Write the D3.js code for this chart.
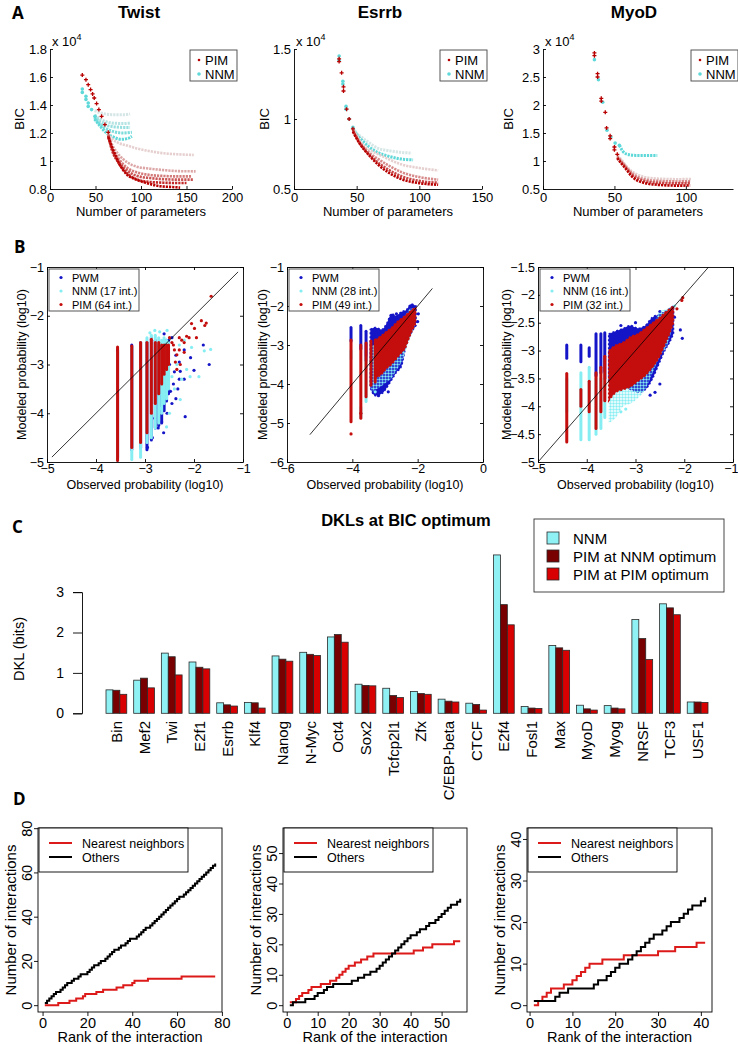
<!DOCTYPE html>
<html><head><meta charset="utf-8">
<script src="https://cdn.jsdelivr.net/npm/d3@7/dist/d3.min.js"></script>
<style>
body{margin:0;background:#fff}
svg{display:block;background:#fff}
text{font-family:"Liberation Sans",Arial,Helvetica,sans-serif;fill:#000}
</style></head><body>
<svg id="fig" width="738" height="1044"></svg>
<script>
// ================= DATA =================
// ---- Panel A : BIC vs number of parameters (BIC in units of 1e4) ----
const aTitles=["Twist","Esrrb","MyoD"];
const aXDomains=[[0,200],[0,150],[0,133]];
const aYDomains=[[0.8,1.8],[0.5,1.5],[0.5,3]];
const aXTicks=[[0,50,100,150,200],[0,50,100,150],[0,50,100]];
const aYTicks=[[0.8,1,1.2,1.4,1.6,1.8],[0.5,1,1.5],[0.5,1,1.5,2,2.5,3]];
const aLegendLabels=["PIM","NNM"];

const twPimPts=[[35.5,1.614],[39.5,1.581],[42,1.545],[44.6,1.51],[46.8,1.479],[48.6,1.45],[51.2,1.41],[53.7,1.367],[56.7,1.319],[60.3,1.26],[64,1.205]];
const twPimCurves=[
 [[64,1.2],[68,1.16],[75,1.13],[85,1.11],[95,1.09],[110,1.07],[125,1.055],[140,1.048],[158,1.043]],
 [[64,1.19],[68,1.12],[75,1.05],[85,0.99],[95,0.96],[110,0.945],[125,0.935],[140,0.928],[160,0.926]],
 [[64,1.19],[68,1.1],[75,1.02],[85,0.95],[95,0.92],[110,0.9],[125,0.893],[140,0.89],[155,0.89]],
 [[64,1.18],[68,1.09],[75,1.0],[85,0.93],[95,0.895],[110,0.878],[125,0.87],[140,0.867],[157,0.867]],
 [[64,1.18],[68,1.08],[75,0.99],[85,0.91],[95,0.87],[110,0.85],[125,0.845],[140,0.843],[150,0.843]],
 [[64,1.17],[68,1.1],[72,1.04],[76,0.98],[80,0.94],[85,0.9],[92,0.875],[100,0.855],[110,0.835],[121,0.82],[132,0.815],[143,0.81]]
];
const twNnmPts=[[35.5,1.514],[35.5,1.49],[39.5,1.462],[39.5,1.44],[42,1.414],[42,1.39],[45.7,1.367],[49.4,1.319]];
const twNnmCurves=[
 [[49,1.36],[55,1.345],[62,1.335],[70,1.33],[80,1.33],[88,1.336]],
 [[49,1.33],[55,1.3],[62,1.28],[70,1.27],[80,1.268],[88,1.27]],
 [[49,1.32],[55,1.28],[62,1.255],[70,1.245],[80,1.24],[88,1.24]],
 [[49,1.31],[55,1.26],[62,1.23],[70,1.21],[80,1.2],[90,1.205]],
 [[49,1.3],[55,1.25],[62,1.2],[70,1.17],[78,1.155],[85,1.16],[90,1.176]]
];
const esPimPts=[[36,1.43],[36,1.41],[38,1.33],[39.5,1.23],[39.5,1.2],[42,1.07],[44,1.0],[47,0.93]];
const esPimCurves=[
 [[47,0.93],[52,0.85],[57,0.8],[62,0.77],[67,0.75],[75,0.715],[86,0.675],[100,0.65],[115,0.633]],
 [[47,0.92],[52,0.84],[57,0.785],[62,0.745],[67,0.715],[75,0.67],[86,0.62],[100,0.585],[115,0.567]],
 [[47,0.92],[52,0.835],[57,0.775],[62,0.73],[67,0.69],[75,0.64],[86,0.59],[100,0.558],[115,0.545]],
 [[47,0.91],[52,0.83],[57,0.77],[62,0.72],[67,0.675],[75,0.62],[86,0.57],[100,0.542],[115,0.53]]
];
const esNnmPts=[[36,1.45],[36,1.42],[39,1.27],[39,1.25],[41.5,1.09],[41.5,1.07],[44,1.0],[47,0.94]];
const esNnmCurves=[
 [[47,0.94],[50,0.9],[54,0.87],[60,0.83],[67,0.79],[75,0.775],[85,0.762],[93,0.757]],
 [[47,0.93],[50,0.89],[54,0.85],[60,0.8],[67,0.76],[75,0.735],[85,0.715],[95,0.708]]
];
const myPimPts=[[36,2.93],[36,2.88],[38.2,2.56],[38.2,2.5],[40.8,2.12],[40.8,2.07],[43.6,1.87],[44.5,1.59],[47,1.45],[47,1.4],[50,1.25],[50,1.2],[52,1.12]];
const myPimCurves=[
 [[52,1.1],[55,1.02],[58,0.92],[62,0.82],[66,0.76],[70,0.72],[80,0.685],[95,0.675],[104,0.68]],
 [[52,1.08],[55,0.99],[58,0.9],[62,0.79],[66,0.72],[70,0.68],[80,0.645],[95,0.635],[103,0.64]],
 [[52,1.06],[55,0.97],[58,0.88],[62,0.76],[66,0.69],[70,0.65],[80,0.61],[95,0.6],[103,0.61]],
 [[52,1.05],[55,0.95],[58,0.86],[62,0.73],[66,0.65],[70,0.615],[80,0.575],[95,0.56],[103,0.565]]
];
const myNnmPts=[[36,2.81],[38.8,2.45],[41.8,2.05],[44.8,1.55],[47.5,1.43],[50.5,1.32],[53.5,1.28]];
const myNnmCurves=[[[53.5,1.28],[56,1.17],[58,1.13],[61,1.11],[65,1.1],[70,1.1],[75,1.1],[80,1.1]]];

// ---- Panel B : modeled vs observed probability (log10) ----
const bLegendLabels=[["PWM","NNM (17 int.)","PIM (64 int.)"],["PWM","NNM (28 int.)","PIM (49 int.)"],["PWM","NNM (16 int.)","PIM (32 int.)"]];
const bXDomains=[[-5,-1],[-6,0],[-5,-1]];
const bYDomains=[[-5,-1],[-6,-1],[-5,-1.5]];
const bXTicks=[[-5,-4,-3,-2,-1],[-6,-4,-2,0],[-5,-4,-3,-2,-1]];
const bYTicks=[[-5,-4,-3,-2,-1],[-6,-5,-4,-3,-2,-1],[-5,-4.5,-4,-3.5,-3,-2.5,-2,-1.5]];
const bDiagonals=[[[-4.9,-4.9],[-1.1,-1.1]],[[-5.3,-5.3],[-1.55,-1.55]],[[-5,-5],[-1.5,-1.5]]];
// columns: [observed, top, bottom]
const b1PwmCols=[[-3.56,-2.7,-4.9],[-3.27,-2.6,-4.75],[-3.09,-2.55,-4.7],[-2.96,-2.55,-4.75],[-2.87,-2.45,-4.55],[-2.79,-2.5,-4.3],[-2.72,-2.6,-4.25],[-2.66,-2.6,-4.2],[-2.61,-2.55,-3.95],[-2.56,-2.5,-3.75],[-2.52,-2.5,-3.6]];
const b1NnmCols=[[-3.56,-2.75,-4.97],[-3.27,-2.65,-4.95],[-3.09,-2.55,-4.9],[-2.96,-2.45,-4.6],[-2.87,-2.4,-4.5],[-2.79,-2.4,-4.3],[-2.72,-2.45,-4.2],[-2.66,-2.5,-4.0],[-2.61,-2.45,-3.8],[-2.56,-2.5,-3.7],[-2.52,-2.55,-3.5]];
const b1PimCols=[[-3.56,-2.64,-4.97],[-3.27,-2.62,-4.7],[-3.09,-2.55,-4.6],[-2.96,-2.55,-4.4],[-2.87,-2.48,-4.0],[-2.79,-2.55,-3.8],[-2.72,-2.55,-3.6],[-2.66,-2.6,-3.4],[-2.61,-2.6,-3.2],[-2.56,-2.6,-3.1],[-2.52,-2.6,-3.0]];
const b1PwmPts=[[-2.61,-2.37],[-2.45,-2.45],[-2.37,-2.81],[-2.28,-3.14],[-2.07,-2.86],[-2.0,-3.12],[-1.81,-2.6],[-1.69,-3.0],[-2.3,-3.3],[-2.37,-3.7],[-2.18,-4.07],[-2.45,-3.8],[-2.66,-4.18],[-2.73,-4.3],[-2.85,-4.5],[-2.95,-4.7],[-2.57,-3.35],[-2.48,-3.55],[-2.8,-4.1],[-2.4,-3.15],[-2.2,-2.7],[-2.3,-2.95],[-2.5,-3.0],[-2.42,-3.4],[-2.33,-3.5],[-2.55,-4.0],[-2.62,-4.4],[-2.2,-3.3]];
const b1NnmPts=[[-2.9,-2.35],[-2.8,-2.3],[-2.7,-2.33],[-2.55,-2.3],[-2.08,-3.25],[-1.9,-3.25],[-1.79,-2.72],[-1.66,-2.69],[-2.28,-3.72],[-2.5,-4.0],[-2.56,-4.28],[-2.35,-3.0],[-2.25,-3.3],[-2.4,-3.5],[-2.15,-3.1],[-2.45,-3.25],[-2.6,-3.6],[-2.7,-3.9],[-2.05,-2.65],[-2.3,-2.6],[-2.2,-2.5]];
const b1PimPts=[[-2.5,-2.45],[-2.45,-2.55],[-2.4,-2.7],[-2.35,-2.8],[-2.3,-2.45],[-2.25,-2.5],[-2.2,-2.55],[-2.15,-2.42],[-2.05,-2.16],[-1.99,-2.26],[-1.95,-2.45],[-1.85,-2.1],[-1.78,-2.2],[-1.75,-2.15],[-1.65,-1.6],[-2.38,-2.95],[-2.3,-2.7],[-2.28,-3.0],[-2.35,-3.1],[-2.2,-2.75],[-2.1,-2.45],[-2.42,-2.6]];

const b2PwmCols=[[-4.04,-2.55,-2.9],[-3.74,-2.5,-3.1],[-3.58,-2.65,-3.4]];
const b2NnmCols=[[-4.04,-3.15,-3.35],[-3.74,-4.6,-4.85],[-3.58,-3.3,-4.45]];
const b2PimCols=[[-4.04,-2.87,-4.97],[-3.74,-3.0,-4.88],[-3.58,-2.95,-4.33],[-3.43,-2.9,-4.03],[-3.3,-2.87,-3.95]];
// dense clouds: [observed, top, bottom]
const b2PwmCloud=[[-3.45,-2.6,-4.1],[-3.3,-2.55,-4.3],[-3.1,-2.6,-4.25],[-2.95,-2.45,-4.1],[-2.8,-2.2,-3.9],[-2.65,-2.25,-3.7],[-2.5,-2.15,-3.55],[-2.35,-2.1,-3.0],[-2.2,-1.95,-2.7],[-2.05,-2.0,-2.5]];
const b2NnmCloud=[[-3.43,-3.0,-4.2],[-3.3,-3.0,-4.15],[-3.1,-2.9,-4.05],[-2.95,-2.8,-3.95],[-2.8,-2.7,-3.85],[-2.65,-2.5,-3.65],[-2.5,-2.35,-3.45],[-2.35,-2.2,-3.1],[-2.2,-2.05,-2.75],[-2.08,-2.05,-2.5]];
const b2PimCloud=[[-3.3,-2.87,-3.85],[-3.1,-2.75,-3.75],[-2.95,-2.65,-3.6],[-2.8,-2.55,-3.5],[-2.65,-2.42,-3.35],[-2.5,-2.32,-3.2],[-2.39,-2.25,-3.1],[-2.25,-2.15,-2.8],[-2.15,-2.08,-2.6],[-2.06,-2.04,-2.45]];
const b2PwmPts=[[-2.65,-2.2],[-2.58,-2.25],[-2.9,-2.45],[-2.7,-2.35],[-1.98,-2.2],[-2.0,-2.4],[-3.2,-4.3],[-2.9,-4.2]];
const b2NnmPts=[[-3.74,-4.75],[-3.3,-4.2]];
const b2PimPts=[[-4.04,-5.28],[-3.74,-4.75]];

const b3PwmCols=[[-4.41,-2.9,-3.14],[-4.12,-2.9,-3.2],[-3.95,-2.95,-3.1],[-3.81,-2.7,-3.45],[-3.71,-2.7,-3.4],[-3.63,-2.68,-3.5]];
const b3NnmCols=[[-4.41,-3.5,-4.1],[-4.12,-3.4,-4.6],[-3.95,-3.3,-4.6],[-3.81,-3.5,-4.5],[-3.71,-3.5,-4.4],[-3.63,-3.4,-4.2]];
const b3PimCols=[[-4.41,-3.41,-4.64],[-4.12,-3.7,-4.0],[-3.95,-3.55,-4.1],[-3.81,-3.4,-4.4],[-3.71,-3.3,-4.1],[-3.63,-3.1,-3.9]];
const b3PwmCloud=[[-3.55,-2.7,-3.55],[-3.4,-2.65,-3.6],[-3.25,-2.6,-3.65],[-3.1,-2.55,-3.7],[-2.95,-2.6,-3.75],[-2.8,-2.55,-3.7],[-2.65,-2.4,-3.5],[-2.5,-2.35,-3.2],[-2.4,-2.3,-3.0],[-2.3,-2.25,-2.85],[-2.22,-2.2,-2.7]];
const b3NnmCloud=[[-3.55,-3.3,-4.3],[-3.4,-3.3,-4.2],[-3.25,-3.3,-4.0],[-3.1,-3.2,-3.95],[-2.95,-3.1,-3.85],[-2.8,-2.9,-3.7],[-2.65,-2.6,-3.4],[-2.5,-2.3,-3.1],[-2.35,-2.25,-2.9],[-2.25,-2.2,-2.6]];
const b3PimCloud=[[-3.55,-3.0,-3.9],[-3.4,-2.9,-3.75],[-3.25,-2.85,-3.7],[-3.1,-2.75,-3.65],[-2.95,-2.7,-3.55],[-2.8,-2.6,-3.45],[-2.65,-2.5,-3.3],[-2.5,-2.4,-3.1],[-2.4,-2.32,-2.9],[-2.3,-2.25,-2.7],[-2.22,-2.2,-2.5]];
const b3PwmPts=[[-2.08,-2.63],[-2.04,-2.78],[-2.2,-2.4],[-2.3,-2.35],[-3.3,-2.55],[-3.0,-2.5],[-2.5,-2.3],[-2.6,-3.75],[-2.5,-3.6],[-2.7,-3.8]];
const b3NnmPts=[[-2.2,-2.2],[-2.3,-2.3],[-3.3,-4.1],[-3.2,-4.05]];
const b3PimPts=[[-2.03,-2.05],[-2.05,-2.1],[-2.15,-2.25]];

// ---- Panel C : DKL at BIC optimum ----
const cCats=["Bin","Mef2","Twi","E2f1","Esrrb","Klf4","Nanog","N-Myc","Oct4","Sox2","Tcfcp2l1","Zfx","C/EBP-beta","CTCF","E2f4","Fosl1","Max","MyoD","Myog","NRSF","TCF3","USF1"];
const cSeries=["NNM","PIM at NNM optimum","PIM at PIM optimum"];
const cNNM=[0.58,0.82,1.49,1.27,0.26,0.27,1.42,1.51,1.89,0.72,0.62,0.54,0.35,0.25,3.92,0.17,1.68,0.20,0.19,2.32,2.71,0.28];
const cPimAtNnm=[0.57,0.87,1.40,1.14,0.21,0.26,1.34,1.46,1.95,0.69,0.44,0.49,0.30,0.22,2.69,0.13,1.62,0.11,0.13,1.85,2.61,0.28];
const cPimAtPim=[0.47,0.63,0.95,1.10,0.18,0.13,1.29,1.43,1.76,0.68,0.39,0.47,0.28,0.08,2.19,0.12,1.56,0.08,0.11,1.33,2.44,0.27];
const cYTicks=[0,1,2,3];

// ---- Panel D : cumulative number of interactions vs rank ----
const dLegendLabels=["Nearest neighbors","Others"];
const d1NN=[0,0,0,0,0,0,1,1,1,1,1,2,2,2,3,3,3,4,5,5,5,5,5,6,6,6,7,7,7,7,7,7,8,8,8,9,9,9,9,10,11,11,11,11,11,11,12,12,12,12,12,12,12,12,12,12,12,12,12,12,12,13,13,13,13,13,13,13,13,13,13,13,13,13,13,13,13];
const d1Others=[1,2,3,4,5,6,6,7,8,9,10,10,11,12,12,13,14,14,14,15,16,17,18,18,19,20,20,21,22,23,24,25,25,26,27,27,28,29,30,30,30,31,32,33,34,35,35,36,37,38,39,40,41,42,43,44,45,46,47,48,49,49,50,51,52,53,54,55,56,57,58,59,60,61,62,63,64];
const d2NN=[1,1,2,3,4,4,5,6,6,6,7,7,7,8,8,9,10,11,12,13,13,14,14,15,15,16,16,17,17,17,17,17,17,17,17,17,17,17,17,17,18,18,18,19,19,19,20,20,20,20,20,20,20,21,21,21];
const d2Others=[0,1,1,1,1,2,2,2,3,4,4,5,6,6,7,7,7,7,7,7,8,8,9,9,10,10,11,11,12,13,14,15,16,17,18,19,20,21,22,23,23,24,25,25,26,27,27,28,29,30,31,32,33,33,34,35];
const d3NN=[0,1,2,3,4,4,4,5,5,6,7,8,9,10,10,10,11,11,11,11,11,12,12,12,12,12,12,12,12,13,13,13,13,14,14,14,14,14,15,15,15];
const d3Others=[1,1,1,1,1,2,3,3,4,4,4,4,4,4,5,6,6,7,8,9,10,10,11,12,13,14,15,16,17,17,18,19,20,20,21,22,23,24,24,25,26];
const dXDomains=[[1,77],[1,56],[1,41]];
const dYDomains=[[0,77],[0,56],[0,41]];
const dXTicks=[[0,20,40,60,80],[0,10,20,30,40,50],[0,10,20,30,40]];
const dYTicks=[[0,20,40,60,80],[0,10,20,30,40,50],[0,10,20,30,40]];

// ================= DRAWING =================
const svg=d3.select("#fig");
const COL={pimA:"#b80000",nnmA:"#5ed8d8",pwm:"#1515c8",nnmB:"#86eef3",pimB:"#c40d0d",
  cNnm:"#8ff1f4",cPimN:"#780000",cPimP:"#d80000",dRed:"#dd1a1a"};
const minus=d=>d<0?"\u2212"+Math.abs(d):String(d);
function styleAxis(sel,fs){
  sel.selectAll("text").style("font-size",fs+"px").attr("fill","#000");
  sel.selectAll("line").attr("stroke","#000").attr("stroke-width",0.9);
  sel.selectAll("path.domain").attr("stroke","#000").attr("stroke-width",0.9);
}
function letter(t,x,y){
  svg.append("text").attr("x",x).attr("y",y).text(t)
   .style("font-family",'"Open Sans","Liberation Sans",sans-serif').style("font-weight","bold").style("font-size","17px");
}
const defs=svg.append("defs");
const pat=defs.append("pattern").attr("id","cyanDots").attr("width",3).attr("height",3).attr("patternUnits","userSpaceOnUse");
pat.append("circle").attr("cx",1.5).attr("cy",1.5).attr("r",1.2).attr("fill",COL.nnmB);

// ---------- Panel A ----------
letter("A",12,19);
const aBoxes=[[50,232],[294,482],[543,733]];
const aTop=49,aBot=189;
const aTitleX=[139,380,634];
const aData=[
 {pimPts:twPimPts,pimCurves:twPimCurves,nnmPts:twNnmPts,nnmCurves:twNnmCurves},
 {pimPts:esPimPts,pimCurves:esPimCurves,nnmPts:esNnmPts,nnmCurves:esNnmCurves},
 {pimPts:myPimPts,pimCurves:myPimCurves,nnmPts:myNnmPts,nnmCurves:myNnmCurves}
];
const aBicLabelX=[24,269,513];
aTitles.forEach((t,k)=>{
  const x=d3.scaleLinear().domain(aXDomains[k]).range(aBoxes[k]);
  const y=d3.scaleLinear().domain(aYDomains[k]).range([aBot,aTop]);
  const g=svg.append("g");
  svg.append("text").attr("x",aTitleX[k]).attr("y",18).attr("text-anchor","middle")
    .style("font-weight","bold").style("font-size","17px").text(t);
  const xa=g.append("g").attr("transform",`translate(0,${aBot})`)
    .call(d3.axisBottom(x).tickValues(aXTicks[k]).tickSizeInner(-3).tickSizeOuter(0).tickPadding(3.5).tickFormat(d=>d));
  const ya=g.append("g").attr("transform",`translate(${aBoxes[k][0]},0)`)
    .call(d3.axisLeft(y).tickValues(aYTicks[k]).tickSizeInner(-3).tickSizeOuter(0).tickPadding(3).tickFormat(d=>d));
  styleAxis(xa,13);styleAxis(ya,13);
  const e=svg.append("text").attr("x",aBoxes[k][0]+2).attr("y",46).style("font-size","13px");
  e.append("tspan").text("x 10");
  e.append("tspan").attr("dy",-6).style("font-size","9px").text("4");
  svg.append("text").attr("x",(aBoxes[k][0]+aBoxes[k][1])/2).attr("y",215.5).attr("text-anchor","middle")
    .style("font-size","13px").text("Number of parameters");
  svg.append("text").attr("transform",`translate(${aBicLabelX[k]},${(aTop+aBot)/2}) rotate(-90)`)
    .attr("text-anchor","middle").style("font-size","13px").text("BIC");
  const line=d3.line().x(d=>x(d[0])).y(d=>y(d[1])).curve(d3.curveMonotoneX);
  const d=aData[k];
  const nn=d.nnmCurves.length, np=d.pimCurves.length;
  const nShade=i=>d3.interpolateRgb("#d6e6e6",COL.nnmA)(nn===1?1:i/(nn-1));
  const pShade=i=>d3.interpolateRgb("#e6cfcf",COL.pimA)(np===1?1:i/(np-1));
  d.nnmCurves.forEach((c,i)=>g.append("path").attr("d",line(c)).attr("fill","none")
     .attr("stroke",nShade(i)).attr("stroke-width",3).attr("stroke-dasharray","2.2 1"));
  d.pimCurves.forEach((c,i)=>g.append("path").attr("d",line(c)).attr("fill","none")
     .attr("stroke",pShade(i)).attr("stroke-width",2.6).attr("stroke-dasharray","2.2 1"));
  g.selectAll(null).data(d.nnmPts).join("circle").attr("cx",p=>x(p[0])).attr("cy",p=>y(p[1])).attr("r",1.8).attr("fill",COL.nnmA);
  g.selectAll(null).data(d.pimPts).join("path")
    .attr("d",p=>`M${x(p[0])-2},${y(p[1])}h4M${x(p[0])},${y(p[1])-2}v4`)
    .attr("stroke",COL.pimA).attr("stroke-width",1.3);
  // legend
  const lx=aBoxes[k][1]-42, ly=50;
  const lg=svg.append("g").attr("transform",`translate(${lx},${ly})`);
  lg.append("rect").attr("width",47).attr("height",31).attr("fill","#fff").attr("stroke","#444").attr("stroke-width",0.9);
  lg.append("circle").attr("cx",9).attr("cy",10).attr("r",1.3).attr("fill",COL.pimA);
  lg.append("circle").attr("cx",9).attr("cy",24).attr("r",1.8).attr("fill",COL.nnmA);
  lg.append("text").attr("x",15).attr("y",14.5).style("font-size","13px").text(aLegendLabels[0]);
  lg.append("text").attr("x",15).attr("y",28.5).style("font-size","13px").text(aLegendLabels[1]);
});

// ---------- Panel B ----------
letter("B",14,253);
const bBoxes=[[47,243],[287,483],[538,733]];
const bTop=267,bBot=462;
const bData=[
 {cols:[b1PwmCols,b1NnmCols,b1PimCols],clouds:[[],[],[]],pts:[b1PwmPts,b1NnmPts,b1PimPts]},
 {cols:[b2PwmCols,b2NnmCols,b2PimCols],clouds:[b2PwmCloud,b2NnmCloud,b2PimCloud],pts:[b2PwmPts,b2NnmPts,b2PimPts]},
 {cols:[b3PwmCols,b3NnmCols,b3PimCols],clouds:[b3PwmCloud,b3NnmCloud,b3PimCloud],pts:[b3PwmPts,b3NnmPts,b3PimPts]}
];
const bColors=[COL.pwm,COL.nnmB,COL.pimB];
const bCloudFill=[COL.pwm,"url(#cyanDots)",COL.pimB];
const bYLabelX=[26,267,511];
bData.forEach((d,k)=>{
  const x=d3.scaleLinear().domain(bXDomains[k]).range(bBoxes[k]);
  const y=d3.scaleLinear().domain(bYDomains[k]).range([bBot,bTop]);
  const cid="clipB"+k;
  defs.append("clipPath").attr("id",cid).append("rect").attr("x",bBoxes[k][0]).attr("y",bTop)
    .attr("width",bBoxes[k][1]-bBoxes[k][0]).attr("height",bBot-bTop);
  const g=svg.append("g");
  const pg=g.append("g").attr("clip-path",`url(#${cid})`);
  const area=d3.area().x(p=>x(p[0])).y0(p=>y(p[2])).y1(p=>y(p[1])).curve(d3.curveMonotoneX);
  [0,1,2].forEach(s=>{
    pg.selectAll(null).data(d.cols[s]).join("line")
      .attr("x1",p=>x(p[0])).attr("x2",p=>x(p[0])).attr("y1",p=>y(p[1])).attr("y2",p=>y(p[2]))
      .attr("stroke",bColors[s]).attr("stroke-width",3).attr("stroke-linecap","round");
    if(d.clouds[s].length){
      pg.append("path").attr("d",area(d.clouds[s])).attr("fill",bCloudFill[s])
        .attr("stroke",s===1?"none":bColors[s]).attr("stroke-width",1.5).attr("stroke-dasharray","2 2");
    }
    pg.selectAll(null).data(d.pts[s]).join("circle").attr("cx",p=>x(p[0])).attr("cy",p=>y(p[1]))
      .attr("r",1.6).attr("fill",bColors[s]);
  });
  pg.append("line").attr("x1",x(bDiagonals[k][0][0])).attr("y1",y(bDiagonals[k][0][1]))
    .attr("x2",x(bDiagonals[k][1][0])).attr("y2",y(bDiagonals[k][1][1])).attr("stroke","#000").attr("stroke-width",0.8);
  const xa=g.append("g").attr("transform",`translate(0,${bBot})`)
    .call(d3.axisBottom(x).tickValues(bXTicks[k]).tickSizeInner(-3).tickSizeOuter(0).tickPadding(2).tickFormat(minus));
  const xt=g.append("g").attr("transform",`translate(0,${bTop})`)
    .call(d3.axisTop(x).tickValues(bXTicks[k]).tickSizeInner(-3).tickSizeOuter(0).tickFormat(""));
  const ya=g.append("g").attr("transform",`translate(${bBoxes[k][0]},0)`)
    .call(d3.axisLeft(y).tickValues(bYTicks[k]).tickSizeInner(-3).tickSizeOuter(0).tickPadding(3).tickFormat(minus));
  const yr=g.append("g").attr("transform",`translate(${bBoxes[k][1]},0)`)
    .call(d3.axisRight(y).tickValues(bYTicks[k]).tickSizeInner(-3).tickSizeOuter(0).tickFormat(""));
  [xa,xt,ya,yr].forEach(a=>styleAxis(a,12.5));
  if(k===2) xa.selectAll(".tick text").filter((v,i,n)=>i===n.length-1).attr("text-anchor","end").attr("x",5);
  svg.append("text").attr("x",(bBoxes[k][0]+bBoxes[k][1])/2).attr("y",488.5).attr("text-anchor","middle")
    .style("font-size","12.5px").text("Observed probability (log10)");
  svg.append("text").attr("transform",`translate(${bYLabelX[k]},${(bTop+bBot)/2}) rotate(-90)`)
    .attr("text-anchor","middle").style("font-size","12.5px").text("Modeled probability (log10)");
  const lg=svg.append("g").attr("transform",`translate(${bBoxes[k][0]+2},${bTop+2})`);
  lg.append("rect").attr("width",90).attr("height",42).attr("fill","#fff").attr("stroke","#444").attr("stroke-width",0.9);
  bLegendLabels[k].forEach((t,i)=>{
    lg.append("circle").attr("cx",12).attr("cy",8.5+i*13.5).attr("r",1.6).attr("fill",bColors[i]);
    lg.append("text").attr("x",23).attr("y",12.5+i*13.5).style("font-size","11px").text(t);
  });
});

// ---------- Panel C ----------
letter("C",12,533);
svg.append("text").attr("x",406).attr("y",526).attr("text-anchor","middle")
  .style("font-weight","bold").style("font-size","16.5px").text("DKLs at BIC optimum");
{
  const x0=d3.scaleBand().domain(cCats).range([106,708]).paddingInner(0.25).paddingOuter(0);
  const x1=d3.scaleBand().domain(cSeries).range([0,x0.bandwidth()]);
  const y=d3.scaleLinear().domain([0,3]).range([713.3,592.1]);
  const vals=[cNNM,cPimAtNnm,cPimAtPim];
  const fills=[COL.cNnm,COL.cPimN,COL.cPimP];
  const g=svg.append("g");
  cSeries.forEach((s,si)=>{
    g.selectAll(null).data(cCats).join("rect")
      .attr("x",c=>x0(c)+x1(s)).attr("width",x1.bandwidth())
      .attr("y",(c,i)=>y(vals[si][i])).attr("height",(c,i)=>y(0)-y(vals[si][i]))
      .attr("fill",fills[si]).attr("stroke","#2a2a2a").attr("stroke-width",0.8);
  });
  const ya=g.append("g").attr("transform","translate(82,0)")
    .call(d3.axisLeft(y).tickValues(cYTicks).tickSize(9).tickPadding(9).tickFormat(d=>d));
  styleAxis(ya,14);
  svg.append("text").attr("transform","translate(24,649) rotate(-90)").attr("text-anchor","middle")
    .style("font-size","14.5px").text("DKL (bits)");
  g.selectAll(null).data(cCats).join("text")
    .attr("transform",c=>`translate(${x0(c)+x0.bandwidth()/2+5.5},721) rotate(-90)`)
    .attr("text-anchor","end").style("font-size","15px").text(c=>c);
  const lg=svg.append("g").attr("transform","translate(534,519)");
  lg.append("rect").attr("width",190).attr("height",73).attr("fill","#fff").attr("stroke","#333").attr("stroke-width",0.9);
  cSeries.forEach((s,i)=>{
    lg.append("rect").attr("x",13).attr("y",13+i*18).attr("width",12).attr("height",12)
      .attr("fill",fills[i]).attr("stroke","#2a2a2a").attr("stroke-width",0.8);
    lg.append("text").attr("x",39).attr("y",24.5+i*18).style("font-size","15px").text(s);
  });
}

// ---------- Panel D ----------
letter("D",13,805);
const dBoxes=[[38,222],[283,467],[527,712]];
const dTop=828,dBot=1012;
const dData=[[d1NN,d1Others],[d2NN,d2Others],[d3NN,d3Others]];
const dYLabelX=[16,261,505];
const ext=(a,b)=>[a-(b-a)*0.04,b+(b-a)*0.04];
dData.forEach((d,k)=>{
  const x=d3.scaleLinear().domain(ext(...dXDomains[k])).range(dBoxes[k]);
  const y=d3.scaleLinear().domain(ext(...dYDomains[k])).range([dBot,dTop]);
  const g=svg.append("g");
  const xa=g.append("g").attr("transform",`translate(0,${dBot})`)
    .call(d3.axisBottom(x).tickValues(dXTicks[k]).tickSize(4).tickPadding(1.5).tickFormat(v=>v));
  const ya=g.append("g").attr("transform",`translate(${dBoxes[k][0]},0)`)
    .call(d3.axisLeft(y).tickValues(dYTicks[k]).tickSize(4).tickPadding(3).tickFormat(v=>v));
  ya.selectAll(".tick text").attr("x",0).attr("dy",0).attr("text-anchor","middle")
    .attr("transform","rotate(-90) translate(0,-6)");
  styleAxis(xa,14.5);styleAxis(ya,14.5);
  [xa,ya].forEach(a=>a.select("path.domain").remove());
  g.append("rect").attr("x",dBoxes[k][0]).attr("y",dTop).attr("width",dBoxes[k][1]-dBoxes[k][0])
    .attr("height",dBot-dTop).attr("fill","none").attr("stroke","#000").attr("stroke-width",0.9);
  const line=d3.line().x((v,i)=>x(i+1)).y(v=>y(v)).curve(d3.curveStepAfter);
  g.append("path").attr("d",line(d[0])).attr("fill","none").attr("stroke",COL.dRed).attr("stroke-width",2);
  g.append("path").attr("d",line(d[1])).attr("fill","none").attr("stroke","#000").attr("stroke-width",2);
  svg.append("text").attr("x",(dBoxes[k][0]+dBoxes[k][1])/2).attr("y",1042).attr("text-anchor","middle")
    .style("font-size","14.5px").text("Rank of the interaction");
  svg.append("text").attr("transform",`translate(${dYLabelX[k]},${(dTop+dBot)/2}) rotate(-90)`)
    .attr("text-anchor","middle").style("font-size","15px").text("Number of interactions");
  const lg=svg.append("g").attr("transform",`translate(${dBoxes[k][0]+1},${dTop})`);
  lg.append("rect").attr("width",149).attr("height",44).attr("fill","#fff").attr("stroke","#000").attr("stroke-width",0.9);
  [COL.dRed,"#000"].forEach((c,i)=>{
    lg.append("line").attr("x1",10).attr("x2",33).attr("y1",15+i*14).attr("y2",15+i*14).attr("stroke",c).attr("stroke-width",2);
    lg.append("text").attr("x",43).attr("y",19.5+i*14).style("font-size","12.5px").text(dLegendLabels[i]);
  });
});
</script></body></html>
